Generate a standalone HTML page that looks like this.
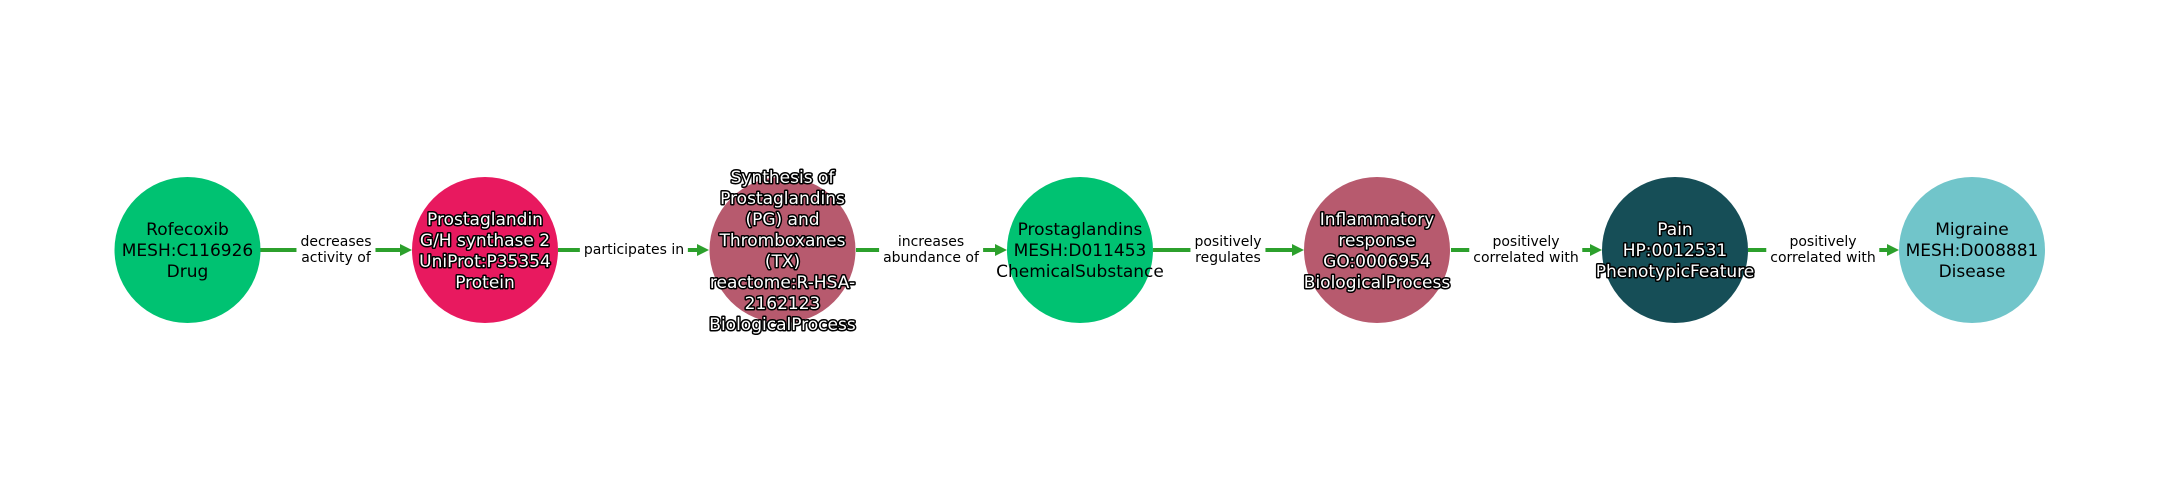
<!DOCTYPE html>
<html><head><meta charset="utf-8"><style>
html,body{margin:0;padding:0;background:#fff;width:2160px;height:500px;overflow:hidden;position:relative;font-family:"DejaVu Sans","Liberation Sans",sans-serif;}
svg{position:absolute;left:0;top:0;}
.el{position:absolute;top:250px;transform:translate(-50%,-50%);background:#fff;padding:1px 4px;font-size:14px;line-height:16px;text-align:center;white-space:nowrap;color:#000;}
</style></head><body>
<svg width="2160" height="500" viewBox="0 0 2160 500" font-family="DejaVu Sans, Liberation Sans, sans-serif">
<g stroke="#2ca02c" stroke-width="4">
<line x1="260" y1="250" x2="405" y2="250"/>
<line x1="558" y1="250" x2="703" y2="250"/>
<line x1="856" y1="250" x2="1000" y2="250"/>
<line x1="1153" y1="250" x2="1298" y2="250"/>
<line x1="1451" y1="250" x2="1595" y2="250"/>
<line x1="1748" y1="250" x2="1893" y2="250"/>
</g>
<g fill="#2ca02c">
<polygon points="412,250 400,244 400,256"/>
<polygon points="709,250 697,244 697,256"/>
<polygon points="1007,250 995,244 995,256"/>
<polygon points="1304,250 1292,244 1292,256"/>
<polygon points="1602,250 1590,244 1590,256"/>
<polygon points="1899,250 1887,244 1887,256"/>
</g>
<circle cx="187.5" cy="250" r="73" fill="#00c272"/>
<circle cx="485" cy="250" r="73" fill="#e8195f"/>
<circle cx="782.5" cy="250" r="73" fill="#b75a6e"/>
<circle cx="1080" cy="250" r="73" fill="#00c272"/>
<circle cx="1377" cy="250" r="73" fill="#b75a6e"/>
<circle cx="1675" cy="250" r="73" fill="#164e57"/>
<circle cx="1972" cy="250" r="73" fill="#71c5ca"/>
<g font-size="17" text-anchor="middle" fill="#000">
<text x="187.5" y="235">Rofecoxib</text>
<text x="187.5" y="256">MESH:C116926</text>
<text x="187.5" y="277">Drug</text>
<text x="1080" y="235">Prostaglandins</text>
<text x="1080" y="256">MESH:D011453</text>
<text x="1080" y="277">ChemicalSubstance</text>
<text x="1972" y="235">Migraine</text>
<text x="1972" y="256">MESH:D008881</text>
<text x="1972" y="277">Disease</text>
</g>
<g font-size="17" text-anchor="middle" fill="#fff" stroke="#000" stroke-width="3" paint-order="stroke" stroke-linejoin="round">
<text x="485" y="225">Prostaglandin</text>
<text x="485" y="246">G/H synthase 2</text>
<text x="485" y="267">UniProt:P35354</text>
<text x="485" y="288">Protein</text>
<text x="782.5" y="183">Synthesis of</text>
<text x="782.5" y="204">Prostaglandins</text>
<text x="782.5" y="225">(PG) and</text>
<text x="782.5" y="246">Thromboxanes</text>
<text x="782.5" y="267">(TX)</text>
<text x="782.5" y="288">reactome:R-HSA-</text>
<text x="782.5" y="309">2162123</text>
<text x="782.5" y="330">BiologicalProcess</text>
<text x="1377" y="225">Inflammatory</text>
<text x="1377" y="246">response</text>
<text x="1377" y="267">GO:0006954</text>
<text x="1377" y="288">BiologicalProcess</text>
<text x="1675" y="235">Pain</text>
<text x="1675" y="256">HP:0012531</text>
<text x="1675" y="277">PhenotypicFeature</text>
</g>
</svg>
<div class="el" style="left:336px">decreases<br>activity of</div>
<div class="el" style="left:634px">participates in</div>
<div class="el" style="left:931px">increases<br>abundance of</div>
<div class="el" style="left:1228px">positively<br>regulates</div>
<div class="el" style="left:1526px">positively<br>correlated with</div>
<div class="el" style="left:1823px">positively<br>correlated with</div>
</body></html>
